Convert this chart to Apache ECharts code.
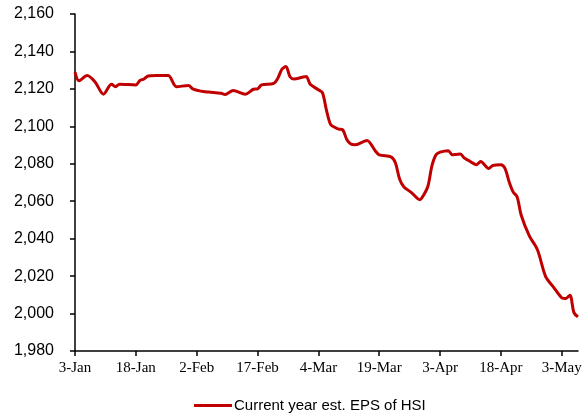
<!DOCTYPE html>
<html>
<head>
<meta charset="utf-8">
<script src="https://cdn.jsdelivr.net/npm/echarts@6/dist/echarts.min.js"></script>
<style>html,body{margin:0;padding:0;background:#fff;}#c{width:586px;height:418px;}</style>
</head>
<body>
<div id="c"></div>
<script>
var dates = ['2011-01-03','2011-01-04','2011-01-06','2011-01-08','2011-01-10','2011-01-12','2011-01-13','2011-01-14','2011-01-18','2011-01-19','2011-01-20','2011-01-21','2011-01-23','2011-01-26','2011-01-28','2011-01-31','2011-02-01','2011-02-03','2011-02-05','2011-02-08','2011-02-09','2011-02-11','2011-02-14','2011-02-16','2011-02-17','2011-02-18','2011-02-21','2011-02-22','2011-02-23','2011-02-24','2011-02-25','2011-02-26','2011-02-28','2011-03-01','2011-03-02','2011-03-04','2011-03-05','2011-03-06','2011-03-07','2011-03-08','2011-03-09','2011-03-10','2011-03-11','2011-03-12','2011-03-13','2011-03-15','2011-03-16','2011-03-18','2011-03-19','2011-03-22','2011-03-23','2011-03-24','2011-03-25','2011-03-27','2011-03-29','2011-03-30','2011-03-31','2011-04-01','2011-04-02','2011-04-03','2011-04-05','2011-04-06','2011-04-07','2011-04-08','2011-04-09','2011-04-10','2011-04-12','2011-04-13','2011-04-15','2011-04-16','2011-04-18','2011-04-19','2011-04-20','2011-04-21','2011-04-22','2011-04-23','2011-04-25','2011-04-27','2011-04-29','2011-05-01','2011-05-03','2011-05-04','2011-05-05','2011-05-06','2011-05-07'];
var epsValues = [2129.0,2124.3,2127.1,2123.5,2117.2,2122.5,2121.2,2122.5,2122.1,2124.5,2125.3,2126.9,2127.2,2127.1,2121.2,2121.8,2120.0,2118.8,2118.3,2117.7,2117.0,2119.1,2117.2,2119.8,2120.0,2122.1,2123.0,2125.7,2130.5,2132.0,2126.5,2125.3,2126.2,2126.6,2122.5,2119.5,2118.0,2108.5,2101.0,2099.5,2098.5,2098.1,2093.0,2090.5,2090.1,2091.7,2092.4,2087.0,2084.8,2083.6,2080.4,2072.0,2067.9,2064.5,2060.8,2063.5,2068.0,2079.0,2084.8,2086.2,2087.0,2084.8,2085.0,2085.2,2083.0,2081.8,2079.5,2081.2,2077.5,2079.1,2079.5,2077.5,2070.5,2065.0,2062.3,2052.5,2041.5,2034.1,2019.9,2014.0,2008.4,2008.0,2009.8,2000.5,1998.2];
var xTickLabels = ['3-Jan','18-Jan','2-Feb','17-Feb','4-Mar','19-Mar','3-Apr','18-Apr','3-May'];
var seriesName = 'Current year est. EPS of HSI';

var DAY = 86400000;
var t0 = Date.parse(dates[0] + 'T00:00:00Z');
function dayOf(s){ return Math.round((Date.parse(s + 'T00:00:00Z') - t0) / DAY); }
var pts = dates.map(function(d, i){ return [dayOf(d), epsValues[i]]; });
var tickDays = xTickLabels.map(function(_, i){ return i * 15; });

var chart = echarts.init(document.getElementById('c'), null, {renderer: 'canvas'});
chart.setOption({
  animation: false,
  backgroundColor: '#ffffff',
  grid: {left: 75, right: 8, top: 14, bottom: 67, containLabel: false},
  legend: {
    left: 189, top: 393,
    icon: 'rect', itemWidth: 38, itemHeight: 3, itemGap: 10,
    textStyle: {fontFamily: 'Liberation Sans, Arial', fontSize: 15, color: '#000', padding: [0,0,0,-3]},
    data: [seriesName]
  },
  xAxis: {
    type: 'value', min: 0, max: dayOf('2011-05-07'), interval: 15,
    splitLine: {show: false},
    axisLine: {show: true, lineStyle: {color: '#000', width: 1.5}},
    axisTick: {show: true, length: 5, inside: false, customValues: tickDays, lineStyle: {color: '#000', width: 1.5}},
    axisLabel: {
      customValues: tickDays,
      margin: 10,
      fontFamily: 'Liberation Serif, serif', fontSize: 15, color: '#000',
      formatter: function(v){ var i = Math.round(v / 15); return (v % 15 === 0 && xTickLabels[i]) ? xTickLabels[i] : ''; }
    }
  },
  yAxis: {
    type: 'value', min: 1980, max: 2160, interval: 20,
    splitLine: {show: false},
    axisLine: {show: true, lineStyle: {color: '#000', width: 1.5}},
    axisTick: {show: true, length: 5, lineStyle: {color: '#000', width: 1.5}},
    axisLabel: {
      margin: 21, fontFamily: 'Liberation Sans, Arial', fontSize: 16, color: '#000',
      formatter: function(v){ return v.toLocaleString('en-US'); }
    }
  },
  series: [{
    name: seriesName, type: 'line', data: pts,
    showSymbol: false, smooth: 0.3,
    lineStyle: {color: '#C00000', width: 3},
    itemStyle: {color: '#C00000'}
  }]
});
</script>
</body>
</html>
